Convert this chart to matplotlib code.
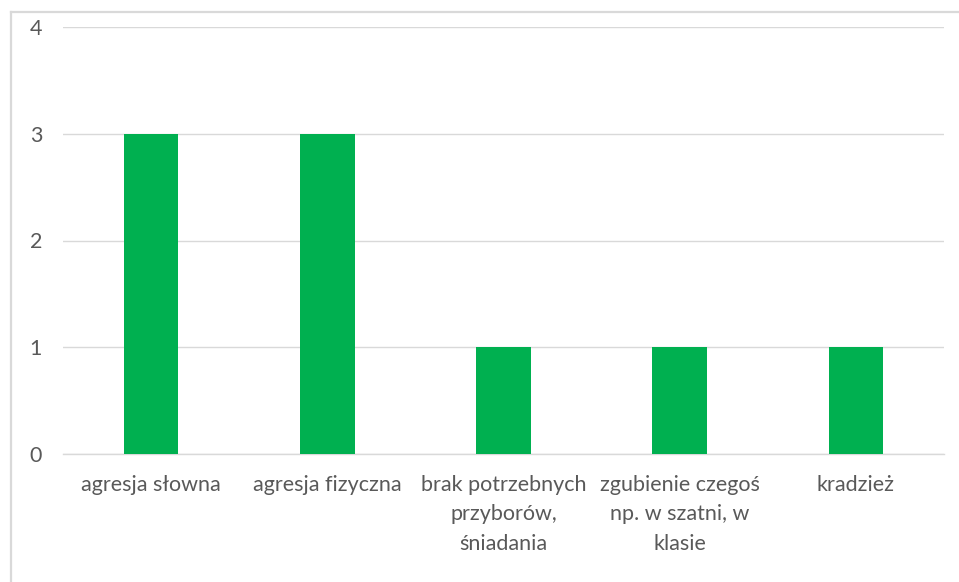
import matplotlib.pyplot as plt
from matplotlib.lines import Line2D

categories = ["agresja słowna", "agresja fizyczna",
              "brak potrzebnych\nprzyborów,\nśniadania",
              "zgubienie czegoś\nnp. w szatni, w\nklasie", "kradzież"]
values = [3, 3, 1, 1, 1]
yticks = [0, 1, 2, 3, 4]

plt.rcParams['font.family'] = ['Lato', 'DejaVu Sans']

fig = plt.figure(figsize=(9.59, 5.82), dpi=100)
ax = fig.add_axes([63 / 959, 1 - 454 / 582, 881 / 959, 427 / 582])

x = range(len(categories))
ax.bar(x, values, width=0.31, color='#00B050', zorder=3)

ax.set_ylim(0, 4)
ax.set_xlim(-0.5, len(categories) - 0.5)
ax.set_yticks(yticks)
ax.set_xticks(list(x))
ax.set_xticklabels(categories, linespacing=1.6)
ax.yaxis.grid(True, color='#D9D9D9', linewidth=1.0, zorder=0)

for side in ['top', 'right', 'left']:
    ax.spines[side].set_visible(False)
ax.spines['bottom'].set_color('#D9D9D9')
ax.spines['bottom'].set_linewidth(1.0)

ax.tick_params(axis='both', length=0, colors='#595959', labelsize=15.5)
ax.tick_params(axis='y', pad=15)
ax.tick_params(axis='x', pad=15)

# chart frame, only top and left edges visible in the crop
fx = 11 / 959
fy = 1 - 12 / 582
fig.add_artist(Line2D([fx, fx], [0, fy], transform=fig.transFigure,
                      color='#D9D9D9', linewidth=1.6))
fig.add_artist(Line2D([fx, 1], [fy, fy], transform=fig.transFigure,
                      color='#D9D9D9', linewidth=1.6))

fig.savefig('out.png', dpi=100)
